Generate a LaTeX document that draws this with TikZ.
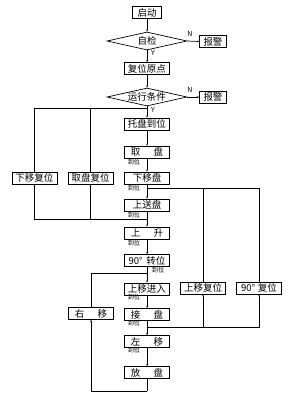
\documentclass[tikz,border=0pt]{standalone}
\usepackage{fontspec}
\setmainfont{Noto Sans CJK SC}
\usetikzlibrary{shapes.geometric,arrows.meta}
\begin{document}
\begin{tikzpicture}[x=1pt,y=-1pt,line width=0.7pt,
  box/.style={draw,rectangle,minimum width=45pt,minimum height=12pt,inner sep=0pt,font=\fontsize{9.5}{10}\selectfont},
  sbox/.style={draw,rectangle,minimum width=27pt,minimum height=12pt,inner sep=0pt,font=\fontsize{9.5}{10}\selectfont},
  dia/.style={draw,diamond,aspect=4.4,minimum width=80pt,minimum height=18pt,inner sep=0pt,font=\fontsize{9.5}{10}\selectfont},
  lab/.style={font=\fontsize{6.2}{7}\selectfont,inner sep=0pt},
  yn/.style={font=\fontsize{7}{7}\selectfont,inner sep=0pt},
  arr/.style={-{Stealth[length=2pt,width=1.6pt]}}]
\useasboundingbox (0,0) rectangle (300,400);
% main column
\node[sbox,minimum width=29pt] (start) at (147,12.5) {启动};
\node[dia] (chk) at (147,41) {自检};
\node[sbox] (al1) at (213,41.5) {报警};
\node[box] (reset) at (147,68.5) {复位原点};
\node[dia] (run) at (147,97) {运行条件};
\node[sbox] (al2) at (213,97) {报警};
\node[box] (tray) at (147,124) {托盘到位};
\node[box] (take) at (147,152) {取\hspace{1.4em}盘};
\node[box] (down) at (147,178) {下移盘};
\node[box] (ups) at (147,205) {上送盘};
\node[box] (rise) at (147,233) {上\hspace{1.4em}升};
\node[box] (rot) at (147,260.5) {90°\hspace{0.4em}转位};
\node[box] (upin) at (147,289) {上移进入};
\node[box] (recv) at (147,314.5) {接\hspace{1.4em}盘};
\node[box] (left) at (147,341.5) {左\hspace{1.4em}移};
\node[box] (put) at (147,372.5) {放\hspace{1.4em}盘};
% side boxes
\node[box] (dr) at (34.5,178) {下移复位};
\node[box] (tr) at (90.5,178) {取盘复位};
\node[box] (ur) at (203,288) {上移复位};
\node[box] (rr) at (259,288) {90°\hspace{0.3em}复位};
\node[box] (rm) at (91,313.5) {右\hspace{1.4em}移};
% junctions
\coordinate (j1) at (147,108.5);
\coordinate (j2) at (147,219);
\coordinate (j3) at (147,188);
\coordinate (j4) at (147,327);
\coordinate (j5) at (147,273.5);
\coordinate (j6) at (147,391);
% main connectors
\draw[arr] (start) -- (chk);
\draw[arr] (chk) -- (reset);
\draw[arr] (chk.east) -- (al1.west);
\draw[arr] (reset) -- (run);
\draw[arr] (run.east) -- (al2.west);
\draw[arr] (run) -- (tray);
\draw[arr] (tray) -- (take);
\draw[arr] (take) -- (down);
\draw[arr] (down) -- (ups);
\draw[arr] (ups) -- (rise);
\draw[arr] (rise) -- (rot);
\draw[arr] (rot) -- (upin);
\draw[arr] (upin) -- (recv);
\draw[arr] (recv) -- (left);
\draw[arr] (left) -- (put);
% left loop
\draw[arr] (j2) -| (dr.south);
\draw[arr] (j2) -| (tr.south);
\draw (dr.north) |- (j1);
\draw (tr.north) |- (j1);
% right loop
\draw[arr] (j4) -| (ur.south);
\draw[arr] (j4) -| (rr.south);
\draw (ur.north) |- (j3);
\draw (rr.north) |- (j3);
% right-move loop
\draw (put.south) -- (j6);
\draw[arr] (j6) -| (rm.south);
\draw (rm.north) |- (j5);
% labels
\node[yn] (y1) at (153,53) {Y};
\node[yn] (y2) at (153,109.5) {Y};
\node[yn] (n1) at (190,34) {N};
\node[yn] (n2) at (190,90) {N};
\node[lab] (l1) at (134,162) {到位};
\node[lab] (l2) at (134,188) {到位};
\node[lab] (l3) at (134,215) {到位};
\node[lab] (l4) at (134,243) {到位};
\node[lab] (l5) at (158,270) {到位};
\node[lab] (l6) at (134,297.5) {到位};
\node[lab] (l7) at (134,323) {到位};
\node[lab] (l8) at (134,350) {到位};
\end{tikzpicture}
\end{document}
